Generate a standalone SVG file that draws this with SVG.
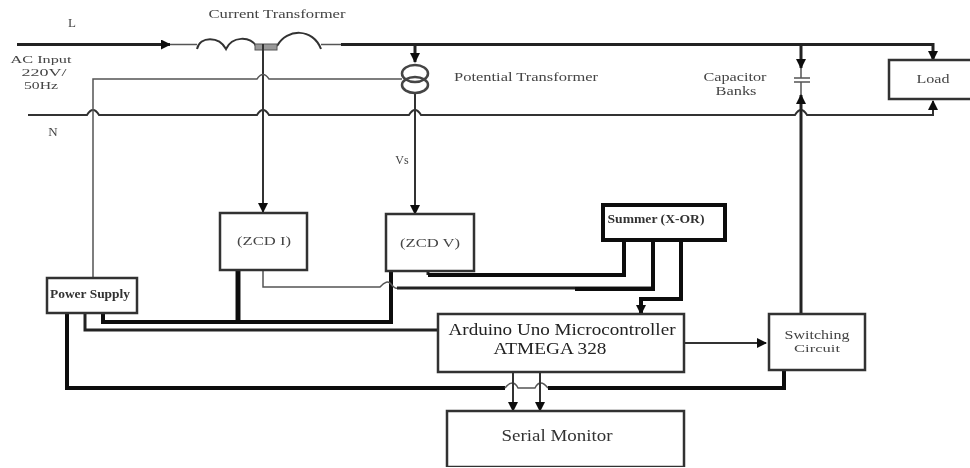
<svg xmlns="http://www.w3.org/2000/svg" width="970" height="468" viewBox="0 0 970 468">
<style>
.c{fill:none;stroke:#222}
.t1{stroke-width:1.5;stroke:#555}
.t2{stroke-width:2;stroke:#333}
.t3{stroke-width:3}
.t4{stroke-width:4;stroke:#111}
.t5{stroke-width:5;stroke:#111}
.b{fill:#fff;stroke:#333;stroke-width:2.5}
text{font-family:"Liberation Serif","Times New Roman",serif;fill:#444;text-anchor:middle;font-size:12px}
.big{font-size:17px;fill:#222}
.bold{font-weight:bold;fill:#333}
</style>
<defs>
<marker id="a" markerWidth="11" markerHeight="11" refX="9" refY="5" orient="auto" markerUnits="userSpaceOnUse"><path d="M0 0L10 5L0 10Z" fill="#111"/></marker>
<filter id="s" x="0" y="0" width="100%" height="100%"><feGaussianBlur stdDeviation="0.6"/></filter>
</defs>
<rect width="970" height="468" fill="#fff"/>
<g filter="url(#s)">
<g id="connectors">
<path class="c t3" d="M17 44.500H170" marker-end="url(#a)"/>
<path class="c t1" d="M170 44.500H197M321 44.500H341"/>
<path class="c t3" d="M341 44.500H933V60" marker-end="url(#a)"/>
<path class="c t2" d="M197 49C200 36 219 36 226 49C232 36 250 36 256 46M277 46C287 28 313 28 321 49"/>
<rect x="255" y="44" width="22" height="6" fill="#999" stroke="#555"/>
<path class="c t2" d="M263 44V212" marker-end="url(#a)"/>
<path class="c t2" d="M28 115H87Q93 105 99 115H257Q263 105 269 115H409Q415 105 421 115H795Q801 105 807 115H933V101" marker-end="url(#a)"/>
<path class="c t1" d="M402 79H269Q263 70 257 79H93V278"/>
<path class="c t3" d="M415 44V62" marker-end="url(#a)"/>
<path class="c t2" d="M415 93V214" marker-end="url(#a)"/>
<path class="c t3" d="M801 44V68" marker-end="url(#a)"/>
<path class="c t1" d="M794 78H810M794 82H810M801 68V78M801 82V95"/>
<path class="c t3" d="M801 313V95" marker-end="url(#a)"/>
<path class="c t5" d="M238 270V322"/>
<path class="c t4" d="M103 313V322H391V271"/>
<path class="c t3" d="M85 313V330H438"/>
<path class="c t4" d="M67 313V388H505"/>
<path class="c t1" d="M505 388Q513 378 518 388H535Q540 378 548 388"/>
<path class="c t4" d="M548 388H784V370"/>
<path class="c t1" d="M263 270V287H380Q387 279 391 284T397 288"/>
<path class="c t3" d="M397 288H653"/>
<path class="c t4" d="M653 240V289H575"/>
<path class="c t3" d="M428 271V275"/>
<path class="c t4" d="M428 275H624V240"/>
<path class="c t4" d="M681 240V299H641V314" marker-end="url(#a)"/>
<path class="c t2" d="M684 343H766" marker-end="url(#a)"/>
<path class="c t2" d="M513 372V411" marker-end="url(#a)"/>
<path class="c t2" d="M540 372V411" marker-end="url(#a)"/>
</g>
<g id="potential-transformer" fill="none" stroke="#444" stroke-width="2.500"><ellipse cx="415" cy="73.500" rx="13" ry="8.500"/><ellipse cx="415" cy="85" rx="13" ry="8"/></g>
<g id="load"><rect class="b" x="889" y="60" width="90" height="39"/><text x="933" y="83" textLength="33" lengthAdjust="spacingAndGlyphs">Load</text></g>
<g id="zcd-i"><rect class="b" x="220" y="213" width="87" height="57"/><text x="264" y="245" textLength="54" lengthAdjust="spacingAndGlyphs">(ZCD I)</text></g>
<g id="zcd-v"><rect class="b" x="386" y="214" width="88" height="57"/><text x="430" y="247" textLength="60" lengthAdjust="spacingAndGlyphs">(ZCD V)</text></g>
<g id="power-supply"><rect class="b" x="47" y="278" width="90" height="35"/><text class="bold" x="90" y="298" textLength="80" lengthAdjust="spacingAndGlyphs">Power Supply</text></g>
<g id="summer"><rect x="603" y="205" width="122" height="35" fill="#fff" stroke="#111" stroke-width="4"/><text class="bold" x="656" y="223" textLength="97" lengthAdjust="spacingAndGlyphs">Summer (X-OR)</text></g>
<g id="arduino"><rect class="b" x="438" y="314" width="246" height="58"/><text class="big" x="562" y="335" textLength="227" lengthAdjust="spacingAndGlyphs">Arduino Uno Microcontroller</text><text class="big" x="550" y="354" textLength="113" lengthAdjust="spacingAndGlyphs">ATMEGA 328</text></g>
<g id="switching"><rect class="b" x="769" y="314" width="96" height="56"/><text x="817" y="339" textLength="65" lengthAdjust="spacingAndGlyphs">Switching</text><text x="817" y="352" textLength="46" lengthAdjust="spacingAndGlyphs" style="font-size:11px">Circuit</text></g>
<g id="serial-monitor"><rect class="b" x="447" y="411" width="237" height="56"/><text x="557" y="441" style="font-size:17px;fill:#333" textLength="111" lengthAdjust="spacingAndGlyphs">Serial Monitor</text></g>
<g id="labels">
<text x="277" y="18" textLength="137" lengthAdjust="spacingAndGlyphs">Current Transformer</text>
<text x="72" y="27" style="font-size:13px">L</text>
<text x="41" y="63" textLength="61" lengthAdjust="spacingAndGlyphs" style="font-size:11px">AC Input</text>
<text x="44" y="76" textLength="45" lengthAdjust="spacingAndGlyphs" style="font-size:11px">220V/</text>
<text x="41" y="89" textLength="34" lengthAdjust="spacingAndGlyphs" style="font-size:11px">50Hz</text>
<text x="53" y="136" style="font-size:13px">N</text>
<text x="526" y="81" textLength="144" lengthAdjust="spacingAndGlyphs">Potential Transformer</text>
<text x="735" y="81" textLength="63" lengthAdjust="spacingAndGlyphs">Capacitor</text>
<text x="736" y="95" textLength="41" lengthAdjust="spacingAndGlyphs">Banks</text>
<text x="402" y="164">Vs</text>
</g>
</g>
</svg>
